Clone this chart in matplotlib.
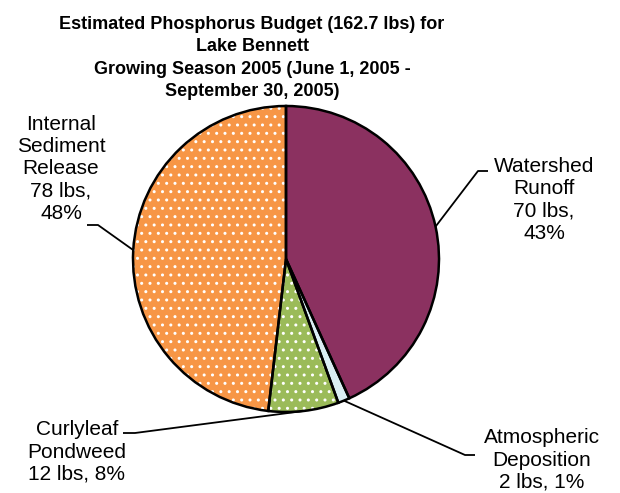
import matplotlib.pyplot as plt
import numpy as np

names = ["Watershed\nRunoff", "Atmospheric\nDeposition", "Curlyleaf\nPondweed", "Internal\nSediment\nRelease"]
lbs = [70, 2, 12, 78]
pcts = [43, 1, 8, 48]
seps = ["\n", " ", " ", "\n"]   # where the percent goes on its own line
colors = ["#8B3160", "#DAEEF3", "#9BBB59", "#F79646"]
hatches = [None, None, "..", ".."]

title = ("Estimated Phosphorus Budget (162.7 lbs) for\nLake Bennett\n"
         "Growing Season 2005 (June 1, 2005 -\nSeptember 30, 2005)")

W, H = 620, 493
fig = plt.figure(figsize=(W / 100, H / 100), dpi=100)
ax = fig.add_axes([0, 0, 1, 1])

cx, cy, r = 286, 234, 153

# filled wedges with white dot hatching
wedges, _ = ax.pie(lbs, colors=colors, startangle=90, counterclock=False,
                   center=(cx, cy), radius=r, frame=True,
                   wedgeprops=dict(edgecolor="white", linewidth=0))
for w, h in zip(wedges, hatches):
    if h:
        w.set_hatch(h)

# black outlines drawn on top
ax.pie(lbs, startangle=90, counterclock=False, center=(cx, cy), radius=r, frame=True,
       wedgeprops=dict(facecolor="none", edgecolor="black", linewidth=1.8))
ax.set_xlim(0, W)
ax.set_ylim(0, H)
ax.set_aspect("equal")
ax.axis("off")

# label text position and the two leader points away from the pie
label_pos = [(544, H - 200), (542, H - 460), (77, H - 452), (61, H - 169)]
elbows = [[(488, H - 171), (478, H - 171)],
          [(475, H - 455), (465, H - 455)],
          [(123, H - 433), (135, H - 433)],
          [(87, H - 225), (98, H - 225)]]

for w, name, v, p, s, pos, el in zip(wedges, names, lbs, pcts, seps, label_pos, elbows):
    mid = np.radians((w.theta1 + w.theta2) / 2)
    ax_pt = (cx + r * np.cos(mid), cy + r * np.sin(mid))
    xs = [el[0][0], el[1][0], ax_pt[0]]
    ys = [el[0][1], el[1][1], ax_pt[1]]
    ax.plot(xs, ys, color="black", lw=1.3, solid_capstyle="butt")
    ax.text(pos[0], pos[1], f"{name}\n{v} lbs,{s}{p}%", ha="center", va="center",
            fontsize=15, family="Liberation Sans", linespacing=1.22)

ax.text(252, H - 58, title, ha="center", va="center", fontsize=13,
        fontweight="bold", family="Liberation Sans", linespacing=1.42)

plt.savefig("out.png", dpi=100)
